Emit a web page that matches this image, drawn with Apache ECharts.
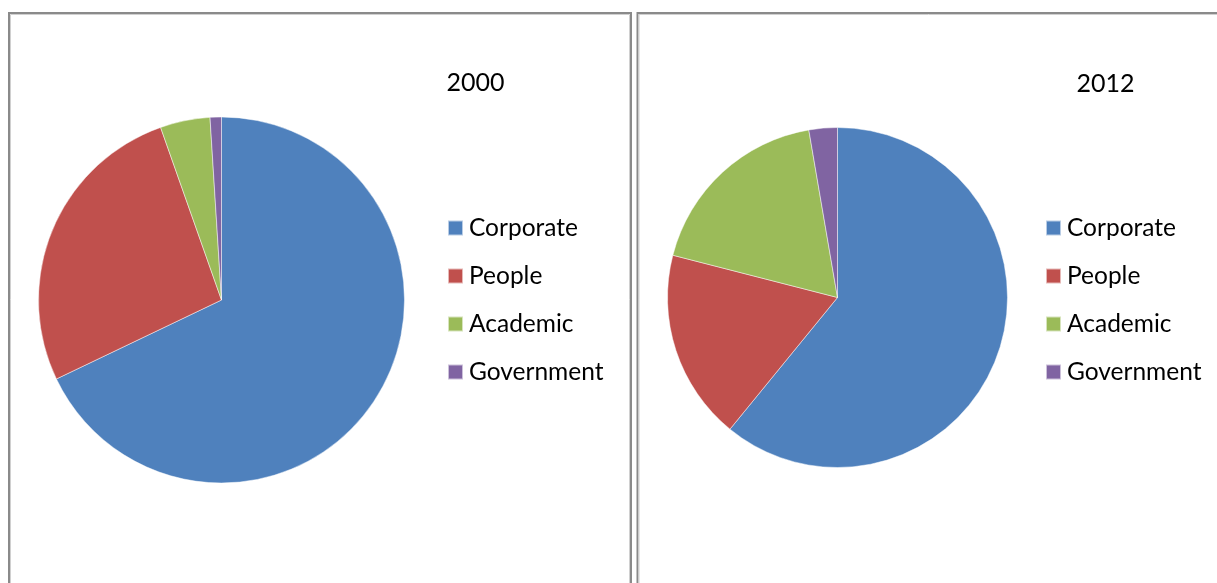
<!DOCTYPE html>
<html>
<head>
<meta charset="utf-8">
<style>
  html, body { margin: 0; padding: 0; background: #fff; }
  #chart { width: 1217px; height: 583px; }
</style>
<script src="https://cdn.jsdelivr.net/npm/echarts@6/dist/echarts.min.js"></script>
</head>
<body>
<div id="chart"></div>
<script>
// Funding sources, share of total (%)
var categories = ['Corporate', 'People', 'Academic', 'Government'];
var years = ['2000', '2012'];
var share2000 = [67.9, 26.7, 4.4, 1.0];
var share2012 = [60.9, 18.1, 18.3, 2.7];

var palette = ['#4F81BD', '#C0504D', '#9BBB59', '#8064A2'];
var FONT = 'Lato, "Open Sans", sans-serif';

function toData(values) {
  return categories.map(function (name, i) { return { name: name, value: values[i] }; });
}

function pieSeries(name, values, center, radius) {
  return {
    type: 'pie',
    name: name,
    center: center,
    radius: radius,
    startAngle: 90,
    clockwise: true,
    label: { show: false },
    labelLine: { show: false },
    emphasis: { disabled: true },
    itemStyle: { borderColor: 'rgba(255,255,255,0.6)', borderWidth: 0.8 },
    data: toData(values)
  };
}

function legendAt(left) {
  return {
    orient: 'vertical',
    left: left,
    top: 215.5,
    padding: 0,
    icon: 'rect',
    itemWidth: 15,
    itemHeight: 15,
    itemGap: 23,
    selectedMode: false,
    data: categories,
    textStyle: { fontFamily: FONT, fontSize: 24.5, color: '#000', lineHeight: 25, padding: [0, 0, 0, 1] }
  };
}

function panel(x) {
  return [
    { type: 'rect', silent: true, shape: { x: x, y: 13, width: x < 300 ? 622 : 700, height: 700 },
      style: { fill: 'none', stroke: '#8a8a8a', lineWidth: 2 } },
    { type: 'rect', silent: true, shape: { x: x + 1.5, y: 14.5, width: x < 300 ? 619 : 700, height: 700 },
      style: { fill: 'none', stroke: '#d0d0d0', lineWidth: 1 } }
  ];
}

var chart = echarts.init(document.getElementById('chart'), null, { renderer: 'canvas' });
chart.setOption({
  animation: false,
  color: palette,
  legend: [legendAt(447), legendAt(1045)],
  graphic: panel(9).concat(panel(637.5)).concat([
    { type: 'text', silent: true, x: 475.5, y: 83,
      style: { text: years[0], font: '25px ' + FONT, fill: '#000', align: 'center', verticalAlign: 'middle' } },
    { type: 'text', silent: true, x: 1105.5, y: 84,
      style: { text: years[1], font: '25px ' + FONT, fill: '#000', align: 'center', verticalAlign: 'middle' } }
  ]),
  series: [
    pieSeries(years[0], share2000, [221.5, 300], 183),
    pieSeries(years[1], share2012, [837.5, 297.5], 170)
  ]
});
</script>
</body>
</html>
